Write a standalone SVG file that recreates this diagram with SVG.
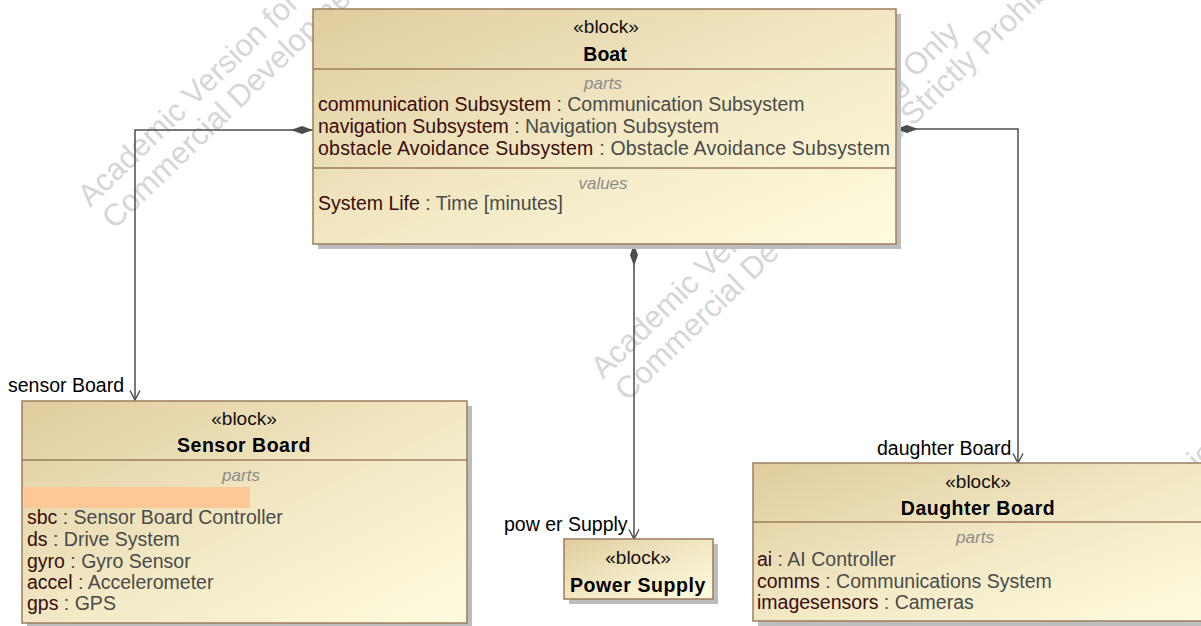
<svg xmlns="http://www.w3.org/2000/svg" width="1201" height="626" viewBox="0 0 1201 626">
<defs>
<linearGradient id="fill" x1="0" y1="0" x2="1" y2="1">
<stop offset="0" stop-color="#dfcc9e"/>
<stop offset="0.55" stop-color="#f3eac6"/>
<stop offset="1" stop-color="#fffcdf"/>
</linearGradient>
<marker id="dia" viewBox="0 0 22 10" refX="0" refY="5" markerWidth="22" markerHeight="10" orient="auto" markerUnits="userSpaceOnUse">
<path d="M0,5 L11,1 L22,5 L11,9 Z" fill="#4d4d4d"/>
</marker>
<marker id="arr" viewBox="0 0 11 12" refX="10" refY="6" markerWidth="11" markerHeight="12" orient="auto" markerUnits="userSpaceOnUse">
<path d="M0.5,1 L10,6 L0.5,11" fill="none" stroke="#4d4d4d" stroke-width="1.4"/>
</marker>
<style>
.wm{font-family:"Liberation Sans",Arial,sans-serif;font-size:31px;fill:#d6d6d6}
.box{fill:url(#fill);stroke:#9c7d5c;stroke-width:1.5}
.shadow{fill:#bdbdbd}
.sep{stroke:#9c7d5c;stroke-width:1.5}
.t{font-family:"Liberation Sans",Arial,sans-serif;font-size:19.5px;fill:#111}
.st{font-family:"Liberation Sans",Arial,sans-serif;font-size:19px;fill:#111;text-anchor:middle}
.ttl{font-family:"Liberation Sans",Arial,sans-serif;font-size:19.5px;font-weight:bold;fill:#000;text-anchor:middle}
.cmp{font-family:"Liberation Sans",Arial,sans-serif;font-size:17px;font-style:italic;fill:#8c8c8c;text-anchor:middle}
.nm{fill:#3a0c0c}
.ty{fill:#4a4a4a}
.lbl{font-family:"Liberation Sans",Arial,sans-serif;font-size:19.5px;fill:#000}
.conn{fill:none;stroke:#4d4d4d;stroke-width:1.5}
</style>
</defs>
<rect width="1201" height="626" fill="#ffffff"/>
<g id="watermark">
<g transform="translate(90,208) rotate(-44)">
<text class="wm" x="0" y="0">Academic Version for</text>
<text class="wm" x="2" y="33">Commercial Development</text>
</g>
<g transform="translate(603,380) rotate(-44)">
<text class="wm" x="0" y="0">Academic Version for Teaching Only</text>
<text class="wm" x="2" y="33">Commercial Development is Strictly Prohibited</text>
</g>
<g transform="translate(1118,550) rotate(-44)">
<text class="wm" x="0" y="0">Academic</text>
</g>
</g>
<g id="connectors">
<path class="conn" d="M313,130 H135 V400" marker-start="url(#dia)" marker-end="url(#arr)"/>
<path class="conn" d="M896,129 H1018 V463" marker-start="url(#dia)" marker-end="url(#arr)"/>
<path class="conn" d="M634,244 V539" marker-start="url(#dia)" marker-end="url(#arr)"/>
<text class="lbl" x="8" y="392">sensor Board</text>
<text class="lbl" x="877" y="455">daughter Board</text>
<text class="lbl" x="504" y="531">pow er Supply</text>
</g>
<g id="boat">
<rect class="shadow" x="318" y="14" width="583" height="235"/>
<rect class="box" x="313" y="9" width="583" height="235"/>
<line class="sep" x1="313" y1="69" x2="896" y2="69"/>
<line class="sep" x1="313" y1="168" x2="896" y2="168"/>
<text class="st" x="606" y="33">«block»</text>
<text class="ttl" x="605" y="61">Boat</text>
<text class="cmp" x="603" y="89">parts</text>
<text class="t" x="318" y="111"><tspan class="nm">communication Subsystem</tspan><tspan class="ty"> : Communication Subsystem</tspan></text>
<text class="t" x="318" y="133"><tspan class="nm">navigation Subsystem</tspan><tspan class="ty"> : Navigation Subsystem</tspan></text>
<text class="t" x="318" y="155" textLength="572"><tspan class="nm">obstacle Avoidance Subsystem</tspan><tspan class="ty"> : Obstacle Avoidance Subsystem</tspan></text>
<text class="cmp" x="603" y="189">values</text>
<text class="t" x="318" y="210"><tspan class="nm">System Life</tspan><tspan class="ty"> : Time [minutes]</tspan></text>
</g>
<g id="sensor-board">
<rect class="shadow" x="27" y="406" width="445" height="222"/>
<rect class="box" x="22" y="401" width="445" height="222"/>
<line class="sep" x1="22" y1="460" x2="467" y2="460"/>
<text class="st" x="244" y="425">«block»</text>
<text class="ttl" x="244" y="452" letter-spacing="0.5">Sensor Board</text>
<text class="cmp" x="241" y="481">parts</text>
<rect x="24" y="487" width="226" height="21" fill="#fec896"/>
<text class="t" x="27" y="524"><tspan class="nm">sbc</tspan><tspan class="ty"> : Sensor Board Controller</tspan></text>
<text class="t" x="27" y="546"><tspan class="nm">ds</tspan><tspan class="ty"> : Drive System</tspan></text>
<text class="t" x="27" y="568"><tspan class="nm">gyro</tspan><tspan class="ty"> : Gyro Sensor</tspan></text>
<text class="t" x="27" y="589"><tspan class="nm">accel</tspan><tspan class="ty"> : Accelerometer</tspan></text>
<text class="t" x="27" y="610"><tspan class="nm">gps</tspan><tspan class="ty"> : GPS</tspan></text>
</g>
<g id="power-supply">
<rect class="shadow" x="569" y="544" width="149" height="60"/>
<rect class="box" x="564" y="539" width="149" height="60"/>
<text class="st" x="638" y="564">«block»</text>
<text class="ttl" x="638" y="592" letter-spacing="0.6">Power Supply</text>
</g>
<g id="daughter-board">
<rect class="shadow" x="758" y="468" width="452" height="158"/>
<rect class="box" x="753" y="463" width="452" height="158"/>
<line class="sep" x1="753" y1="522" x2="1205" y2="522"/>
<text class="st" x="978" y="488">«block»</text>
<text class="ttl" x="978" y="515" letter-spacing="0.5">Daughter Board</text>
<text class="cmp" x="975" y="543">parts</text>
<text class="t" x="757" y="566"><tspan class="nm">ai</tspan><tspan class="ty"> : AI Controller</tspan></text>
<text class="t" x="757" y="588"><tspan class="nm">comms</tspan><tspan class="ty"> : Communications System</tspan></text>
<text class="t" x="757" y="609"><tspan class="nm">imagesensors</tspan><tspan class="ty"> : Cameras</tspan></text>
</g>
</svg>
